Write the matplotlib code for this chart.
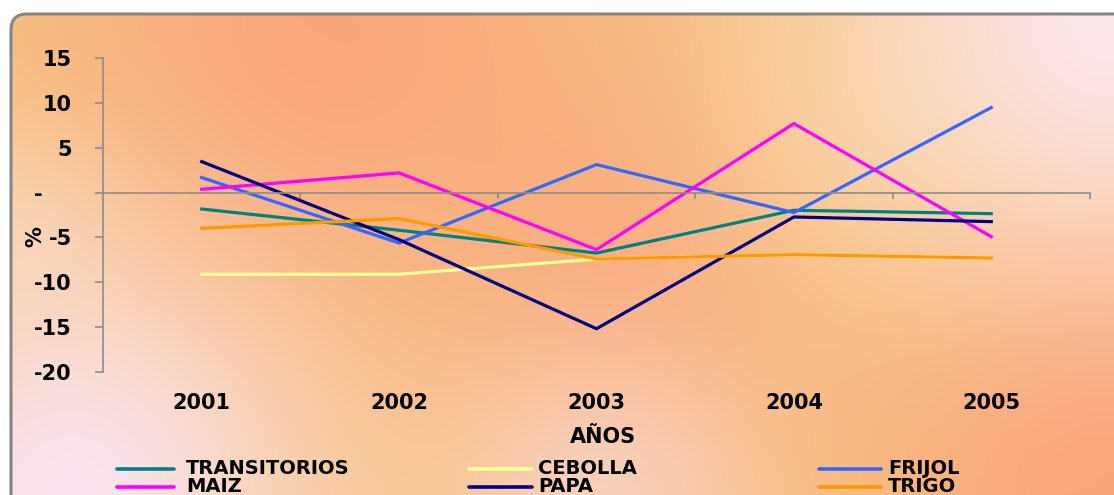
import matplotlib
matplotlib.use("Agg")
import matplotlib.pyplot as plt
import matplotlib.transforms as mtransforms
from matplotlib.colors import to_rgb
from matplotlib.patches import FancyBboxPatch
import numpy as np

YEARS = ["2001", "2002", "2003", "2004", "2005"]
TRANSITORIOS = [-1.83, -4.2, -6.75, -1.97, -2.35]
CEBOLLA = [-9.12, -9.12, -7.42, -6.93, -7.3]
FRIJOL = [1.68, -5.63, 3.13, -2.23, 9.5]
MAIZ = [0.37, 2.2, -6.37, 7.71, -4.92]
PAPA = [3.46, -5.25, -15.2, -2.72, -3.24]
TRIGO = [-3.99, -2.9, -7.42, -6.93, -7.3]

SERIES = [
    ("TRANSITORIOS", TRANSITORIOS, "#008080"),
    ("CEBOLLA", CEBOLLA, "#FFFF99"),
    ("FRIJOL", FRIJOL, "#3366FF"),
    ("MAIZ", MAIZ, "#FF00FF"),
    ("PAPA", PAPA, "#000080"),
    ("TRIGO", TRIGO, "#FF9900"),
]
Y_TICKS = [15, 10, 5, 0, -5, -10, -15, -20]
Y_LABELS = ["15", "10", "5", "-    ", "-5", "-10", "-15", "-20"]

W, H = 1114, 495
FONT = dict(family="DejaVu Sans", weight="bold", size=15)
LEG_FONT = dict(FONT, size=14)

fig = plt.figure(figsize=(W / 100, H / 100), dpi=100)

# background panel with soft colour blobs, in pixel coords
bg = fig.add_axes([0, 0, 1, 1])
bg.set_xlim(0, W)
bg.set_ylim(H, 0)
bg.axis("off")

gx, gy = np.meshgrid(np.arange(0, W, 3), np.arange(0, H, 3))
img = np.ones(gx.shape + (3,)) * np.array(to_rgb("#F8C480"))
blobs = [
    (320, 40, 190, "#F9A77A", 1.0),
    (630, 240, 150, "#F9A87A", 0.9),
    (1110, 450, 170, "#F9A477", 1.0),
    (860, 110, 130, "#F9D59A", 0.6),
    (20, 230, 70, "#F8D4AA", 0.7),
    (70, 495, 170, "#FBE4EF", 1.0),
    (600, 495, 110, "#FADDE3", 0.6),
    (1114, 15, 180, "#FDE6EA", 1.0),
]
for bx, by, s, c, k in blobs:
    a = k * np.exp(-((gx - bx) ** 2 + (gy - by) ** 2) / (2 * s * s))
    img = img * (1 - a[..., None]) + np.array(to_rgb(c)) * a[..., None]

frame = FancyBboxPatch(
    (11, 14), 1140, 530,
    boxstyle="round,pad=0,rounding_size=16",
    fc="none", ec="#858585", lw=2.2, zorder=3,
)
im = bg.imshow(img, extent=[0, W, H, 0], interpolation="bilinear", aspect="auto")
bg.add_patch(frame)
im.set_clip_path(frame)

# chart
ax = fig.add_axes([103 / W, 1 - 371.7 / H, 987 / W, 313.4 / H])
ax.patch.set_alpha(0)
ax.set_xlim(0.5, 5.5)
ax.set_ylim(-20, 15)
x = np.arange(1, len(YEARS) + 1)
for name, vals, col in SERIES:
    ax.plot(x, vals, color=col, lw=2.3, solid_joinstyle="miter")

for s in ("top", "right"):
    ax.spines[s].set_visible(False)
ax.spines["left"].set_color("#8c8c8c")
ax.spines["bottom"].set_color("#8c8c8c")
ax.spines["bottom"].set_position(("data", 0))
ax.spines["left"].set_linewidth(1.2)
ax.spines["bottom"].set_linewidth(1.2)

ax.set_yticks(Y_TICKS)
ax.set_yticklabels(Y_LABELS, fontdict=FONT)
ax.tick_params(axis="y", direction="out", length=6, width=1.2, color="#8c8c8c", pad=16.5)
ax.set_xticks(x + 0.5)
ax.set_xticklabels([])
ax.tick_params(axis="x", direction="out", length=4.5, width=1.2, color="#8c8c8c")

trans = mtransforms.blended_transform_factory(ax.transData, fig.transFigure)
for xi, yr in zip(x, YEARS):
    ax.text(xi, 1 - 403 / H, yr, transform=trans, ha="center", va="center", **FONT)

fig.text(603 / W, 1 - 437 / H, "AÑOS", ha="center", va="center", **FONT)
fig.text(35 / W, 1 - 237 / H, "%", ha="center", va="center", rotation=90, **FONT)

# legend, two rows of three
cols = [(117, 174, 186), (469, 532, 538), (819, 881, 888)]
rows = [468.5, 486.5]
for i, (name, vals, col) in enumerate(SERIES):
    r, c = divmod(i, 3)
    x0, x1, xt = cols[c]
    yy = rows[r]
    bg.plot([x0, x1], [yy, yy], color=col, lw=2.6, solid_capstyle="round")
    bg.text(xt, yy, name, ha="left", va="center", **LEG_FONT)

fig.savefig("out.png", dpi=100)
